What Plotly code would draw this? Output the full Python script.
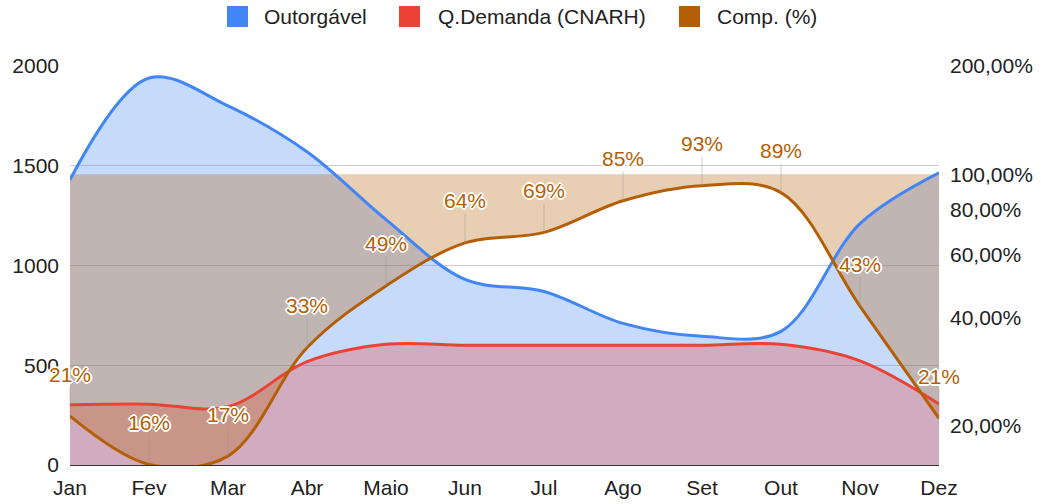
import math
import plotly.graph_objects as go

# ---- data ----
months = ["Jan", "Fev", "Mar", "Abr", "Maio", "Jun", "Jul", "Ago", "Set", "Out", "Nov", "Dez"]
outorgavel = [1430, 1940, 1800, 1570, 1230, 930, 870, 710, 645, 670, 1210, 1465]
demanda = [302, 305, 292, 518, 605, 600, 600, 600, 600, 605, 522, 306]
comp = [0.213, 0.1565, 0.165, 0.33, 0.49, 0.645, 0.69, 0.845, 0.93, 0.89, 0.43, 0.21]
comp_labels = ["21%", "16%", "17%", "33%", "49%", "64%", "69%", "85%", "93%", "89%", "43%", "21%"]
left_ticks = [0, 500, 1000, 1500, 2000]
right_ticks = [0.2, 0.4, 0.6, 0.8, 1.0, 2.0]
right_ticktext = ["20,00%", "40,00%", "60,00%", "80,00%", "100,00%", "200,00%"]
COMP_BASELINE = 1.0  # area baseline of the log axis (100%)

# ---- style ----
FONT = "Liberation Sans, Arial, sans-serif"
BLUE = "#4285F4"
RED = "#EA4335"
ORANGE = "#B45F06"
TXT = "#222222"
W, H = 1041, 504
ML, MR, MT, MB = 70, 102, 66, 39
PW, PH = W - ML - MR, H - MT - MB
LOG_RANGE = [math.log10(2.0) - PH / 360, math.log10(2.0)]


def px_x(px):
    return (px - ML) / PW


def px_y(py):
    return (H - MB - py) / PH


fig = go.Figure()

# areas (fills only)
fig.add_trace(go.Scatter(
    x=months, y=outorgavel, name="Outorgável", mode="lines",
    line=dict(color="rgba(0,0,0,0)", width=0, shape="spline", smoothing=1),
    fill="tozeroy", fillcolor="rgba(66,133,244,0.3)", showlegend=False, hoverinfo="skip",
))
fig.add_trace(go.Scatter(
    x=months, y=demanda, name="Q.Demanda (CNARH)", mode="lines",
    line=dict(color="rgba(0,0,0,0)", width=0, shape="spline", smoothing=1),
    fill="tozeroy", fillcolor="rgba(234,67,53,0.3)", showlegend=False, hoverinfo="skip",
))
fig.add_trace(go.Scatter(
    x=months, y=[COMP_BASELINE] * len(months), yaxis="y2", mode="lines",
    line=dict(width=0, color="rgba(0,0,0,0)"), hoverinfo="skip", showlegend=False,
))
fig.add_trace(go.Scatter(
    x=months, y=comp, name="Comp. (%)", yaxis="y2", mode="lines",
    line=dict(color="rgba(0,0,0,0)", width=0, shape="spline", smoothing=1),
    fill="tonexty", fillcolor="rgba(180,95,6,0.3)", showlegend=False, hoverinfo="skip",
))
# lines on top
fig.add_trace(go.Scatter(
    x=months, y=outorgavel, name="Outorgável", yaxis="y3", mode="lines",
    line=dict(color=BLUE, width=3, shape="spline", smoothing=1), showlegend=False,
))
fig.add_trace(go.Scatter(
    x=months, y=demanda, name="Q.Demanda (CNARH)", yaxis="y3", mode="lines",
    line=dict(color=RED, width=3, shape="spline", smoothing=1), showlegend=False,
))
fig.add_trace(go.Scatter(
    x=months, y=comp, name="Comp. (%)", yaxis="y4", mode="lines",
    line=dict(color=ORANGE, width=3, shape="spline", smoothing=1), showlegend=False,
))

shadow = ("#fff 2px 0px 0px, #fff -2px 0px 0px, #fff 0px 2px 0px, #fff 0px -2px 0px, "
          "#fff 1px 1px 0px, #fff -1px -1px 0px, #fff 1px -1px 0px, #fff -1px 1px 0px")
annotations = []
for m, v, t in zip(months, comp, comp_labels):
    annotations.append(dict(
        x=m, y=math.log10(v), xref="x", yref="y4", text=t,
        showarrow=True, arrowhead=0, arrowwidth=1, arrowcolor="rgba(150,150,150,0.45)",
        ax=0, ay=-42, standoff=0,
        font=dict(family=FONT, size=21, color=ORANGE, shadow=shadow),
    ))

# manual legend
legend_items = [("Outorgável", BLUE, 227, 262), ("Q.Demanda (CNARH)", RED, 399, 436), ("Comp. (%)", ORANGE, 679, 715)]
shapes = []
for name, col, sx, tx in legend_items:
    shapes.append(dict(type="rect", xref="paper", yref="paper",
                       x0=px_x(sx), x1=px_x(sx + 21), y0=px_y(27), y1=px_y(6),
                       fillcolor=col, line=dict(width=0)))
    annotations.append(dict(x=px_x(tx), y=px_y(16.5), xref="paper", yref="paper",
                            text=name, showarrow=False, xanchor="left", yanchor="middle",
                            font=dict(family=FONT, size=21, color=TXT)))

hidden = dict(visible=False, showgrid=False, zeroline=False, automargin=False)

fig.update_layout(
    template="none",
    width=W, height=H, autosize=False,
    margin=dict(l=ML, r=MR, t=MT, b=MB, pad=0),
    paper_bgcolor="white", plot_bgcolor="white",
    font=dict(family=FONT, size=20, color=TXT),
    showlegend=False,
    hovermode=False,
    xaxis=dict(type="category", range=[0, len(months) - 1], showgrid=False, automargin=False,
               showline=True, linecolor="#333333", linewidth=1, ticks="",
               tickfont=dict(size=21, color=TXT), ticklabelstandoff=4, zeroline=False),
    yaxis=dict(range=[0, 2000], tickvals=left_ticks, showgrid=True, gridcolor="#cccccc",
               gridwidth=1, zeroline=False, showline=False, ticks="", automargin=False,
               tickfont=dict(size=21, color=TXT), ticklabelstandoff=10),
    yaxis2=dict(type="log", overlaying="y", side="right", range=LOG_RANGE,
                tickvals=right_ticks, ticktext=right_ticktext, showgrid=False,
                zeroline=False, showline=False, ticks="", automargin=False,
                tickfont=dict(size=21, color=TXT), ticklabelstandoff=10),
    yaxis3=dict(overlaying="y", range=[0, 2000], **hidden),
    yaxis4=dict(overlaying="y", type="log", range=LOG_RANGE, **hidden),
    shapes=shapes,
    annotations=annotations,
)

fig.write_html("out.html", config={"displayModeBar": False},
               post_script="document.body.style.margin='0px';document.body.style.overflow='hidden';")
